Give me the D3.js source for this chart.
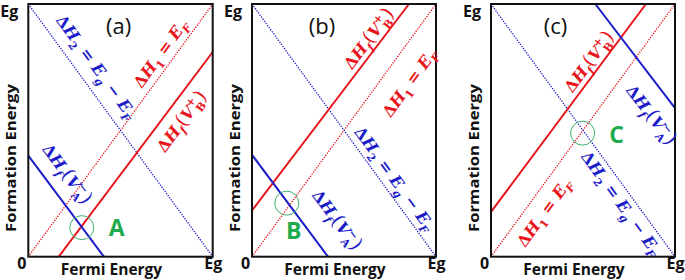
<!DOCTYPE html>
<html><head><meta charset="utf-8">
<script src="https://cdn.jsdelivr.net/npm/d3@7"></script>
<style>
html,body{margin:0;padding:0;background:#fff;}
svg{display:block;}
</style></head>
<body>
<svg id="chart" width="685" height="280"></svg>
<script>
// ---------- data ----------
const panelNames = ["(a)", "(b)", "(c)"];
const xTickValues = [0, 1];
const xTickLabels = ["0", "Eg"];
const yTickLabels = ["Eg"];
const xTitle = "Fermi Energy";
const yTitle = "Formation Energy";
// reference lines (Fermi energy, formation energy) in units of Eg
const lineH1 = [[0, 0], [1, 1]];          // ΔH1 = EF
const lineH2 = [[0, 1], [1, 0]];          // ΔH2 = Eg − EF
// defect formation lines per panel
const lineVBplus = [
  [[0.165, 0], [1, 0.81]],
  [[0, 0.183], [0.853, 1]],
  [[0, 0.177], [0.842, 1]]
];
const lineVAminus = [
  [[0, 0.40], [0.41, 0]],
  [[0, 0.403], [0.413, 0]],
  [[0.567, 1], [1, 0.588]]
];
const markerPoints = [[0.29, 0.115], [0.189, 0.212], [0.498, 0.489]];
const markerLabels = ["A", "B", "C"];

// ---------- layout / style ----------
const panelBoxes = [
  {x0: 28.3, x1: 212.7}, {x0: 252, x1: 436}, {x0: 491, x1: 675}
];
const yTop = 4, yBot = 256.7;
const RED = "#e8141c", BLUE = "#1c1cc8", GREEN = "#1faa4e";
// label placement per panel: [fraction along its line, perpendicular offset px (+ = above text baseline side)]
const labelPlace = [
  {h2: [0.29, 18], h1: [0.773, 13], vb: [0.71, -17], va: [0.3, 20]},
  {h2: [0.72, 12.5], h1: [0.745, -25], vb: [0.8, 11], va: [0.81, 29]},
  {h2: [0.76, -12], h1: [0.213, -17], vb: [0.69, 11], va: [0.93, -23]}
];
const markerLabelOffset = [[35, 0], [7, 28], [34, 2]];
const panelTitlePos = [[0.49, 0.93], [0.38, 0.93], [0.35, 0.93]];

const svg = d3.select("#chart");
const mathFont = "'DejaVu Serif', serif";
const sansFont = "'Open Sans', Lato, sans-serif";
const baseSize = 16;

const labelDefs = {
  h2: [{t: "Δ"}, {t: "H", i: 1}, {t: "2", s: "sub"}, {t: " = "}, {t: "E", i: 1}, {t: "g", i: 1, s: "sub"}, {t: " − "}, {t: "E", i: 1}, {t: "F", i: 1, s: "sub"}],
  h1: [{t: "Δ"}, {t: "H", i: 1}, {t: "1", s: "sub"}, {t: " = "}, {t: "E", i: 1}, {t: "F", i: 1, s: "sub"}],
  vb: [{t: "Δ"}, {t: "H", i: 1}, {t: "f", i: 1, s: "sub"}, {t: "(", big: 1}, {t: "V", i: 1}, {t: "+", s: "sup"}, {t: "B", s: "sub", back: 1}, {t: ")", big: 1}],
  va: [{t: "Δ"}, {t: "H", i: 1}, {t: "f", i: 1, s: "sub"}, {t: "(", big: 1}, {t: "V", i: 1}, {t: "−", s: "sup"}, {t: "A", s: "sub", back: 1}, {t: ")", big: 1}]
};

function richText(g, parts, size) {
  const txt = g.append("text")
    .attr("text-anchor", "middle")
    .attr("font-family", mathFont)
    .attr("font-weight", "bold")
    .attr("font-size", size);
  let cur = 0;
  const subSize = size * 0.68;
  parts.forEach(p => {
    const target = p.s === "sub" ? size * 0.3 : p.s === "sup" ? -size * 0.42 : 0;
    const ts = txt.append("tspan").text(p.t)
      .attr("dy", target - cur);
    cur = target;
    if (p.s) ts.attr("font-size", subSize);
    if (p.big) ts.attr("font-size", size * 1.2).attr("font-weight", "normal");
    if (p.i) ts.attr("font-style", "italic");
    if (p.back) ts.attr("dx", -subSize * 0.62);
  });
  txt.append("tspan").text("\u200b").attr("dy", -cur);
  return txt;
}

panelBoxes.forEach((box, k) => {
  const x = d3.scaleLinear().domain([0, 1]).range([box.x0, box.x1]);
  const y = d3.scaleLinear().domain([0, 1]).range([yBot, yTop]);
  const g = svg.append("g");
  const line = d3.line().x(d => x(d[0])).y(d => y(d[1]));

  // dotted reference lines
  g.append("path").datum(lineH1).attr("d", line).attr("fill", "none")
    .attr("stroke", RED).attr("stroke-width", 1.3).attr("stroke-dasharray", "1.3,1.3");
  g.append("path").datum(lineH2).attr("d", line).attr("fill", "none")
    .attr("stroke", BLUE).attr("stroke-width", 1.3).attr("stroke-dasharray", "1.3,1.3");
  // solid defect lines
  g.append("path").datum(lineVBplus[k]).attr("d", line).attr("fill", "none")
    .attr("stroke", RED).attr("stroke-width", 2);
  g.append("path").datum(lineVAminus[k]).attr("d", line).attr("fill", "none")
    .attr("stroke", BLUE).attr("stroke-width", 2);

  // frame
  g.append("rect").attr("x", box.x0).attr("y", yTop)
    .attr("width", box.x1 - box.x0).attr("height", yBot - yTop)
    .attr("fill", "none").attr("stroke", "#111").attr("stroke-width", 2);

  // marker circle and letter
  const mp = markerPoints[k];
  g.append("circle").attr("cx", x(mp[0])).attr("cy", y(mp[1])).attr("r", 12)
    .attr("fill", "none").attr("stroke", "#3cb06a").attr("stroke-width", 1);
  g.append("text").attr("x", x(mp[0]) + markerLabelOffset[k][0]).attr("y", y(mp[1]) + markerLabelOffset[k][1] + 8)
    .attr("text-anchor", "middle").attr("font-family", sansFont).attr("font-weight", "bold")
    .attr("font-size", 23).attr("fill", GREEN).text(markerLabels[k]);

  // panel title
  g.append("text").attr("x", x(panelTitlePos[k][0])).attr("y", y(panelTitlePos[k][1]) + 12)
    .attr("text-anchor", "middle").attr("font-family", sansFont)
    .attr("font-size", 22).attr("fill", "#111").text(panelNames[k]);

  // math labels placed along their lines
  const lp = labelPlace[k];
  const addLabel = (key, seg, color) => {
    const [t, d] = lp[key];
    const p0 = [x(seg[0][0]), y(seg[0][1])], p1 = [x(seg[1][0]), y(seg[1][1])];
    const px = p0[0] + t * (p1[0] - p0[0]), py = p0[1] + t * (p1[1] - p0[1]);
    const ang = Math.atan2(p1[1] - p0[1], p1[0] - p0[0]) * 180 / Math.PI;
    const lg = g.append("g").attr("transform", `translate(${px},${py}) rotate(${ang})`);
    richText(lg, labelDefs[key], baseSize).attr("fill", color).attr("y", -d + 0.35 * baseSize);
  };
  addLabel("h2", lineH2, BLUE);
  addLabel("h1", lineH1, RED);
  addLabel("vb", lineVBplus[k], RED);
  addLabel("va", lineVAminus[k], BLUE);

  // bottom axis labels
  const ax = d3.axisBottom(x).tickValues(xTickValues).tickSize(0)
    .tickFormat((d, i) => xTickLabels[i]);
  const axG = g.append("g").attr("transform", `translate(0,${yBot})`).call(ax);
  axG.select(".domain").remove();
  axG.selectAll("text").attr("font-family", sansFont).attr("font-weight", "bold")
    .attr("font-size", 16).attr("fill", "#111").attr("dy", 0).attr("y", 12.5)
    .attr("dx", (d, i) => i === 0 ? -7 : 0);
  // top-left Eg
  g.append("text").attr("x", box.x0 - 19).attr("y", yTop + 13)
    .attr("text-anchor", "middle").attr("font-family", sansFont).attr("font-weight", "bold")
    .attr("font-size", 16).attr("fill", "#111").text(yTickLabels[0]);
  // titles
  g.append("text").attr("x", (box.x0 + box.x1) / 2 - 9).attr("y", 275)
    .attr("text-anchor", "middle").attr("font-family", sansFont).attr("font-weight", "bold")
    .attr("font-size", 15.5).attr("fill", "#111").text(xTitle);
  g.append("text").attr("transform", `translate(${box.x0 - 12},158) rotate(-90)`)
    .attr("text-anchor", "middle").attr("font-family", sansFont).attr("font-weight", "bold")
    .attr("font-size", 15).attr("textLength", 148).attr("lengthAdjust", "spacingAndGlyphs")
    .attr("fill", "#111").text(yTitle);
});
</script>
</body></html>
